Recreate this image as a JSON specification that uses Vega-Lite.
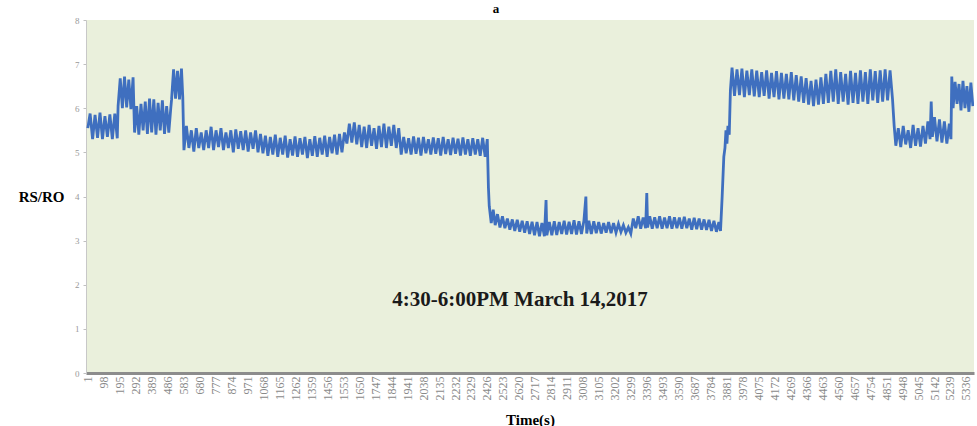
{
"$schema": "https://vega.github.io/schema/vega-lite/v6.json",
"width": 888, "height": 353,
"autosize": {"type": "none"},
"padding": {"left": 86, "top": 20, "right": 3, "bottom": 53},
"background": "white",
"title": {"text": "a", "fontSize": 13, "font": "Liberation Serif", "fontWeight": "bold", "offset": 0, "dx": -34, "color": "black"},
"config": {"view": {"fill": "#eaf0dc", "stroke": null}, "font": "Liberation Serif", "axisX": {"labelOverlap": false}},
"layer": [
{"data": {"values": [
{"t":1,"v":5.55},{"t":15,"v":5.88},{"t":30,"v":5.3},{"t":45,"v":5.85},{"t":60,"v":5.33},{"t":75,"v":5.9},{"t":90,"v":5.3},{"t":105,"v":5.82},{"t":120,"v":5.35},{"t":135,"v":5.86},{"t":150,"v":5.3},{"t":165,"v":5.88},{"t":180,"v":5.32},
{"t":185,"v":6.05},{"t":198,"v":6.68},{"t":211,"v":6.0},{"t":224,"v":6.72},{"t":237,"v":6.02},{"t":250,"v":6.65},{"t":263,"v":5.98},{"t":276,"v":6.7},
{"t":285,"v":5.45},{"t":298,"v":6.05},{"t":311,"v":5.4},{"t":324,"v":6.1},{"t":337,"v":5.5},{"t":350,"v":6.15},{"t":363,"v":5.42},{"t":376,"v":6.22},{"t":389,"v":5.45},{"t":402,"v":6.2},{"t":415,"v":5.4},{"t":428,"v":6.12},{"t":441,"v":5.5},{"t":454,"v":6.18},{"t":467,"v":5.42},{"t":480,"v":6.05},{"t":493,"v":5.45},{"t":505,"v":6.0},
{"t":510,"v":6.2},{"t":522,"v":6.88},{"t":534,"v":6.22},{"t":546,"v":6.85},{"t":558,"v":6.2},{"t":570,"v":6.9},{"t":578,"v":6.25},
{"t":585,"v":5.05},{"t":600,"v":5.6},{"t":615,"v":5.1},{"t":630,"v":5.5},{"t":645,"v":5.02},{"t":660,"v":5.55},{"t":675,"v":5.1},{"t":690,"v":5.45},{"t":705,"v":5.05},{"t":720,"v":5.5},{"t":735,"v":5.1},{"t":750,"v":5.58},{"t":765,"v":5.05},{"t":780,"v":5.5},{"t":795,"v":5.12},{"t":810,"v":5.55},{"t":825,"v":5.05},{"t":840,"v":5.45},{"t":855,"v":5.1},{"t":870,"v":5.5},{"t":885,"v":5.0},{"t":900,"v":5.52},{"t":915,"v":5.08},{"t":930,"v":5.48},{"t":945,"v":5.05},{"t":960,"v":5.5},{"t":975,"v":5.02},{"t":990,"v":5.45},{"t":1005,"v":5.08},{"t":1020,"v":5.5},{"t":1035,"v":5.0},{"t":1050,"v":5.42},
{"t":1065,"v":4.98},{"t":1080,"v":5.38},{"t":1095,"v":4.92},{"t":1110,"v":5.35},{"t":1125,"v":4.95},{"t":1140,"v":5.4},{"t":1155,"v":4.9},{"t":1170,"v":5.33},{"t":1185,"v":4.95},{"t":1200,"v":5.38},{"t":1215,"v":4.88},{"t":1230,"v":5.3},{"t":1245,"v":4.93},{"t":1260,"v":5.36},{"t":1275,"v":4.9},{"t":1290,"v":5.32},{"t":1305,"v":4.95},{"t":1320,"v":5.35},{"t":1335,"v":4.87},{"t":1350,"v":5.3},{"t":1365,"v":4.92},{"t":1380,"v":5.37},{"t":1395,"v":4.9},{"t":1410,"v":5.33},{"t":1425,"v":4.95},{"t":1440,"v":5.38},{"t":1455,"v":4.9},{"t":1470,"v":5.35},{"t":1485,"v":4.98},{"t":1500,"v":5.4},{"t":1515,"v":4.95},{"t":1530,"v":5.42},{"t":1545,"v":5.0},{"t":1560,"v":5.45},
{"t":1575,"v":5.2},{"t":1590,"v":5.65},{"t":1605,"v":5.22},{"t":1620,"v":5.68},{"t":1635,"v":5.18},{"t":1650,"v":5.62},
{"t":1665,"v":5.12},{"t":1680,"v":5.58},{"t":1695,"v":5.1},{"t":1710,"v":5.62},{"t":1725,"v":5.15},{"t":1740,"v":5.55},{"t":1755,"v":5.08},{"t":1770,"v":5.6},{"t":1785,"v":5.12},{"t":1800,"v":5.65},{"t":1815,"v":5.1},{"t":1830,"v":5.58},{"t":1845,"v":5.15},{"t":1860,"v":5.62},{"t":1875,"v":5.1},{"t":1890,"v":5.55},
{"t":1905,"v":4.95},{"t":1920,"v":5.35},{"t":1935,"v":4.98},{"t":1950,"v":5.32},{"t":1965,"v":4.95},{"t":1980,"v":5.36},{"t":1995,"v":4.97},{"t":2010,"v":5.33},{"t":2025,"v":4.93},{"t":2040,"v":5.35},{"t":2055,"v":4.98},{"t":2070,"v":5.3},{"t":2085,"v":4.95},{"t":2100,"v":5.34},{"t":2115,"v":4.97},{"t":2130,"v":5.32},{"t":2145,"v":4.93},{"t":2160,"v":5.35},{"t":2175,"v":4.96},{"t":2190,"v":5.3},{"t":2205,"v":4.94},{"t":2220,"v":5.33},{"t":2235,"v":4.97},{"t":2250,"v":5.31},{"t":2265,"v":4.93},{"t":2280,"v":5.34},{"t":2295,"v":4.95},{"t":2310,"v":5.3},{"t":2325,"v":4.92},{"t":2340,"v":5.32},{"t":2355,"v":4.95},{"t":2370,"v":5.3},{"t":2385,"v":4.92},{"t":2400,"v":5.33},{"t":2415,"v":4.9},{"t":2428,"v":5.3},
{"t":2435,"v":4.2},{"t":2440,"v":3.78},{"t":2452,"v":3.4},{"t":2464,"v":3.7},{"t":2476,"v":3.35},{"t":2490,"v":3.6},{"t":2505,"v":3.3},{"t":2520,"v":3.55},{"t":2535,"v":3.28},{"t":2550,"v":3.5},{"t":2565,"v":3.25},{"t":2580,"v":3.48},{"t":2595,"v":3.22},{"t":2610,"v":3.47},{"t":2625,"v":3.2},{"t":2640,"v":3.45},{"t":2655,"v":3.18},{"t":2670,"v":3.44},{"t":2685,"v":3.15},{"t":2700,"v":3.43},{"t":2715,"v":3.12},{"t":2730,"v":3.42},{"t":2745,"v":3.1},{"t":2760,"v":3.4},{"t":2775,"v":3.1},{"t":2785,"v":3.92},{"t":2790,"v":3.12},{"t":2805,"v":3.42},{"t":2820,"v":3.12},{"t":2835,"v":3.44},{"t":2850,"v":3.13},{"t":2865,"v":3.42},{"t":2880,"v":3.15},{"t":2895,"v":3.45},{"t":2910,"v":3.14},{"t":2925,"v":3.43},{"t":2940,"v":3.15},{"t":2955,"v":3.46},{"t":2970,"v":3.14},{"t":2985,"v":3.44},{"t":3000,"v":3.15},{"t":3015,"v":3.45},{"t":3027,"v":4.0},{"t":3032,"v":3.16},{"t":3045,"v":3.45},{"t":3060,"v":3.15},{"t":3075,"v":3.44},{"t":3090,"v":3.17},{"t":3105,"v":3.42},{"t":3120,"v":3.16},{"t":3135,"v":3.4},{"t":3150,"v":3.18},{"t":3165,"v":3.42},{"t":3180,"v":3.17},{"t":3195,"v":3.4},{"t":3210,"v":3.18},{"t":3225,"v":3.38},{"t":3240,"v":3.2},{"t":3255,"v":3.35},{"t":3270,"v":3.18},{"t":3285,"v":3.3},{"t":3300,"v":3.16},{"t":3315,"v":3.5},{"t":3330,"v":3.28},{"t":3345,"v":3.55},{"t":3360,"v":3.27},{"t":3375,"v":3.52},{"t":3390,"v":3.28},{"t":3397,"v":4.08},{"t":3402,"v":3.3},{"t":3415,"v":3.55},{"t":3430,"v":3.27},{"t":3445,"v":3.53},{"t":3460,"v":3.28},{"t":3475,"v":3.55},{"t":3490,"v":3.27},{"t":3505,"v":3.52},{"t":3520,"v":3.28},{"t":3535,"v":3.55},{"t":3550,"v":3.27},{"t":3565,"v":3.53},{"t":3580,"v":3.28},{"t":3595,"v":3.52},{"t":3610,"v":3.27},{"t":3625,"v":3.54},{"t":3640,"v":3.28},{"t":3655,"v":3.5},{"t":3670,"v":3.25},{"t":3685,"v":3.52},{"t":3700,"v":3.26},{"t":3715,"v":3.5},{"t":3730,"v":3.25},{"t":3745,"v":3.48},{"t":3760,"v":3.24},{"t":3775,"v":3.47},{"t":3790,"v":3.22},{"t":3805,"v":3.45},{"t":3820,"v":3.2},{"t":3835,"v":3.42},{"t":3845,"v":3.22},
{"t":3855,"v":4.0},{"t":3865,"v":4.9},{"t":3872,"v":5.1},{"t":3878,"v":5.5},{"t":3884,"v":5.2},{"t":3890,"v":5.6},{"t":3898,"v":5.4},{"t":3905,"v":6.4},
{"t":3915,"v":6.92},{"t":3930,"v":6.28},{"t":3945,"v":6.88},{"t":3960,"v":6.3},{"t":3975,"v":6.9},{"t":3990,"v":6.25},{"t":4005,"v":6.85},{"t":4020,"v":6.3},{"t":4035,"v":6.88},{"t":4050,"v":6.27},{"t":4065,"v":6.85},{"t":4080,"v":6.25},{"t":4095,"v":6.82},{"t":4110,"v":6.28},{"t":4125,"v":6.86},{"t":4140,"v":6.22},{"t":4155,"v":6.8},{"t":4170,"v":6.25},{"t":4185,"v":6.84},{"t":4200,"v":6.2},{"t":4215,"v":6.8},{"t":4230,"v":6.22},{"t":4245,"v":6.78},{"t":4260,"v":6.2},{"t":4275,"v":6.82},{"t":4290,"v":6.18},{"t":4305,"v":6.75},{"t":4320,"v":6.15},{"t":4335,"v":6.72},{"t":4350,"v":6.12},{"t":4365,"v":6.68},{"t":4380,"v":6.08},{"t":4395,"v":6.62},{"t":4410,"v":6.05},{"t":4425,"v":6.65},{"t":4440,"v":6.08},{"t":4455,"v":6.7},{"t":4470,"v":6.1},{"t":4485,"v":6.78},{"t":4500,"v":6.12},{"t":4515,"v":6.85},{"t":4530,"v":6.15},{"t":4545,"v":6.88},{"t":4560,"v":6.1},{"t":4575,"v":6.82},{"t":4590,"v":6.15},{"t":4605,"v":6.78},{"t":4620,"v":6.08},{"t":4635,"v":6.85},{"t":4650,"v":6.12},{"t":4665,"v":6.8},{"t":4680,"v":6.1},{"t":4695,"v":6.86},{"t":4710,"v":6.15},{"t":4725,"v":6.82},{"t":4740,"v":6.1},{"t":4755,"v":6.88},{"t":4770,"v":6.18},{"t":4785,"v":6.84},{"t":4800,"v":6.12},{"t":4815,"v":6.86},{"t":4830,"v":6.15},{"t":4845,"v":6.88},{"t":4860,"v":6.18},{"t":4875,"v":6.86},{"t":4890,"v":6.2},
{"t":4900,"v":5.6},{"t":4910,"v":5.15},{"t":4925,"v":5.55},{"t":4940,"v":5.12},{"t":4955,"v":5.6},{"t":4970,"v":5.18},{"t":4985,"v":5.5},{"t":5000,"v":5.1},{"t":5015,"v":5.62},{"t":5030,"v":5.15},{"t":5045,"v":5.55},{"t":5060,"v":5.13},{"t":5075,"v":5.6},{"t":5090,"v":5.2},{"t":5105,"v":5.7},{"t":5118,"v":5.3},{"t":5125,"v":6.15},{"t":5132,"v":5.35},{"t":5145,"v":5.8},{"t":5160,"v":5.25},{"t":5175,"v":5.75},{"t":5190,"v":5.22},{"t":5205,"v":5.7},{"t":5220,"v":5.2},{"t":5235,"v":5.65},{"t":5245,"v":5.3},{"t":5250,"v":6.72},{"t":5258,"v":6.0},{"t":5270,"v":6.6},{"t":5282,"v":6.1},{"t":5294,"v":6.55},{"t":5306,"v":5.95},{"t":5318,"v":6.62},{"t":5330,"v":6.0},{"t":5342,"v":6.5},{"t":5354,"v":5.92},{"t":5366,"v":6.58},{"t":5378,"v":6.05}
]},
"mark": {"type": "line", "color": "#3f6fbf", "strokeWidth": 2.8, "clip": true},
"encoding": {
"x": {"field": "t", "type": "quantitative", "scale": {"domain": [-10, 5385], "nice": false, "zero": false},
 "axis": {"title": "Time(s)", "values": [1,98,195,292,389,486,583,680,777,874,971,1068,1165,1262,1359,1456,1553,1650,1747,1844,1941,2038,2135,2232,2329,2426,2523,2620,2717,2814,2911,3008,3105,3202,3299,3396,3493,3590,3687,3784,3881,3978,4075,4172,4269,4366,4463,4560,4657,4754,4851,4948,5045,5142,5239,5336],
 "tickCount": 100, "format": "d", "labelAngle": -90, "labelOverlap": false, "labelSeparation": 0, "labelFlush": false, "labelFontSize": 12, "labelFont": "Liberation Serif", "labelColor": "#8a8a8a", "labelPadding": 3,
 "ticks": false, "grid": false, "domainColor": "#8c8c8c", "domainWidth": 3,
 "titleFont": "Liberation Serif", "titleFontSize": 15, "titleFontWeight": "bold", "titleColor": "black", "titleBaseline": "middle", "titleY": 46}},
"y": {"field": "v", "type": "quantitative", "scale": {"domain": [0, 8], "nice": false},
 "axis": {"title": "RS/RO", "values": [0,1,2,3,4,5,6,7,8], "grid": false, "domainColor": "#c8c8c8", "tickColor": "#c0c0c0", "tickSize": 3, "labelFontSize": 9, "labelFont": "Liberation Serif", "labelColor": "#999999", "labelPadding": 4,
 "titleAngle": 0, "titleFont": "Liberation Serif", "titleFontSize": 15, "titleFontWeight": "bold", "titleColor": "black", "titleAlign": "right", "titleBaseline": "middle", "titleX": -22, "titleY": 176}}
}},
{"data": {"values": [{"t": 2627, "v": 1.65, "label": "4:30-6:00PM March 14,2017"}]},
 "mark": {"type": "text", "fontSize": 21, "fontWeight": "bold", "font": "Liberation Serif", "color": "#1a1a1a"},
 "encoding": {"x": {"field": "t", "type": "quantitative"}, "y": {"field": "v", "type": "quantitative"}, "text": {"field": "label"}}}
]
}
